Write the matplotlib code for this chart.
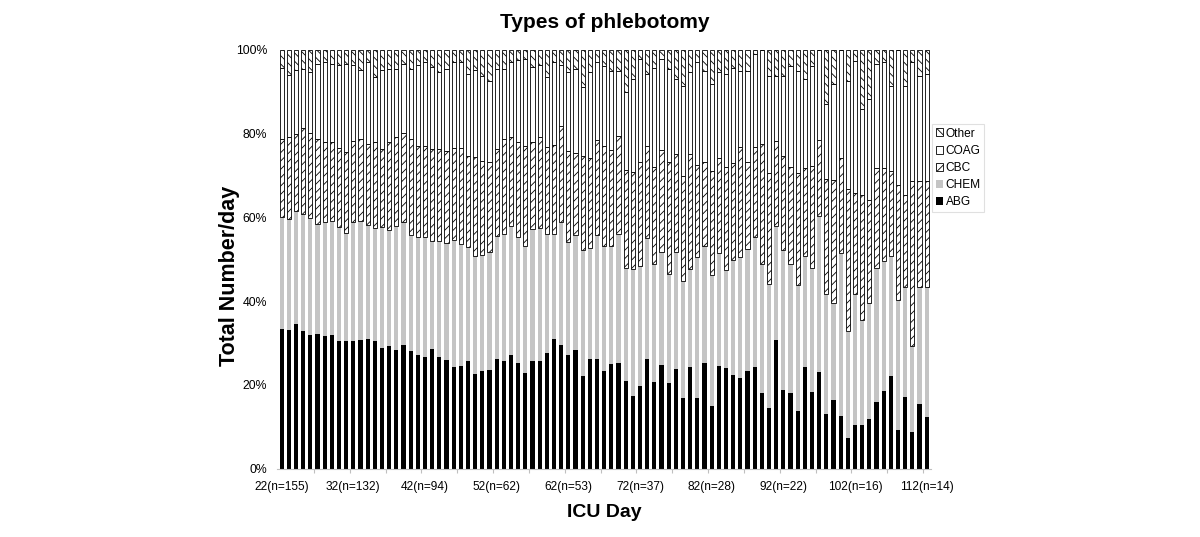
"""Stacked share of phlebotomy types per ICU day."""

import matplotlib
matplotlib.use("Agg")
import matplotlib.pyplot as plt
import numpy as np

# ICU days shown on the x axis (one bar per day)
days = list(range(22, 113))

# share of each test type per day, in percent
abg = [33.3, 33.0, 34.5, 32.9, 31.8, 32.2, 31.6, 31.9, 30.5, 30.5,
       30.5, 30.7, 30.9, 30.5, 28.7, 29.3, 28.4, 29.4, 28.0, 27.2,
       26.6, 28.6, 26.7, 25.9, 24.3, 24.6, 25.7, 22.7, 23.3, 23.5,
       26.1, 25.6, 27.0, 25.3, 22.8, 25.6, 25.6, 27.5, 31.0, 29.4,
       27.0, 28.3, 22.0, 26.2, 26.2, 23.2, 24.9, 25.1, 21.0, 17.4,
       19.6, 26.2, 20.7, 24.7, 20.5, 23.8, 16.9, 24.2, 16.9, 25.1,
       15.0, 24.4, 24.1, 22.4, 21.7, 23.4, 24.3, 18.1, 14.5, 30.6,
       18.8, 18.1, 13.8, 24.3, 18.3, 23.0, 13.0, 16.4, 12.6, 7.4,
       10.3, 10.5, 11.9, 15.8, 18.5, 22.0, 9.2, 17.2, 8.8, 15.4,
       12.3]
chem = [26.7, 26.7, 27.0, 28.0, 28.1, 26.3, 27.3, 27.1, 27.2, 25.8,
        28.4, 28.3, 27.3, 27.0, 28.9, 27.7, 29.4, 29.5, 27.8, 28.2,
        28.7, 25.8, 27.7, 28.0, 30.3, 29.0, 27.2, 28.1, 27.6, 28.3,
        29.5, 30.5, 30.9, 30.1, 30.3, 31.6, 31.8, 28.5, 24.9, 29.5,
        27.2, 27.5, 30.1, 26.4, 29.6, 29.9, 28.2, 30.9, 27.0, 30.2,
        28.8, 28.8, 28.1, 27.1, 25.9, 28.0, 28.0, 23.5, 33.5, 28.0,
        31.2, 27.1, 23.2, 27.3, 28.7, 29.0, 30.9, 30.7, 29.5, 27.3,
        33.3, 30.7, 30.1, 26.5, 29.7, 37.4, 28.8, 23.1, 38.8, 25.5,
        31.5, 25.0, 27.6, 32.0, 31.1, 28.8, 31.1, 26.1, 20.5, 28.0,
        31.1]
cbc = [18.8, 19.4, 18.3, 20.3, 20.1, 20.2, 19.1, 19.0, 18.8, 19.2,
       19.3, 19.6, 19.4, 20.4, 18.7, 21.0, 21.3, 21.2, 22.8, 21.7,
       21.6, 21.9, 22.0, 21.9, 21.9, 23.0, 21.7, 23.7, 22.6, 21.5,
       20.8, 22.5, 21.3, 22.6, 23.9, 20.8, 21.8, 20.7, 21.4, 23.0,
       21.7, 19.6, 22.5, 21.6, 22.6, 24.0, 23.0, 23.5, 23.3, 23.3,
       24.7, 22.1, 23.3, 24.3, 26.9, 23.2, 25.0, 27.5, 22.1, 20.2,
       24.8, 22.6, 24.8, 23.2, 26.4, 20.7, 21.6, 28.8, 26.6, 20.3,
       22.5, 23.2, 26.7, 21.0, 24.2, 18.0, 27.3, 29.4, 22.7, 33.8,
       23.9, 29.7, 24.7, 24.0, 22.2, 20.2, 27.4, 22.1, 39.4, 25.3,
       25.3]
coag = [16.9, 14.9, 15.3, 14.3, 14.7, 18.0, 19.1, 18.7, 19.8, 21.2,
        18.1, 16.5, 19.5, 15.7, 18.8, 17.5, 16.4, 16.6, 16.9, 19.2,
        20.2, 19.6, 18.3, 19.7, 20.6, 20.5, 19.7, 20.6, 20.2, 19.2,
        19.1, 16.9, 17.9, 19.5, 20.9, 17.9, 17.1, 16.9, 19.8, 14.4,
        18.8, 20.1, 16.4, 20.4, 18.6, 19.0, 18.9, 15.5, 18.5, 22.1,
        24.7, 17.2, 23.6, 21.7, 22.1, 18.0, 21.5, 19.4, 24.5, 21.7,
        20.8, 20.5, 22.2, 22.8, 18.2, 21.9, 22.1, 22.4, 23.2, 15.6,
        19.2, 24.1, 24.4, 21.2, 23.9, 21.6, 17.9, 22.9, 25.9, 25.8,
        31.7, 20.6, 24.0, 24.8, 25.2, 20.4, 32.3, 26.0, 28.3, 25.1,
        25.5]
other = [4.3, 6.0, 4.9, 4.5, 5.3, 3.3, 2.9, 3.3, 3.7, 3.3,
         3.7, 4.9, 2.9, 6.4, 4.9, 4.5, 4.5, 3.3, 4.5, 3.7,
         2.9, 4.1, 5.3, 4.5, 2.9, 2.9, 5.7, 4.9, 6.3, 7.5,
         4.5, 4.5, 2.9, 2.5, 2.1, 4.1, 3.7, 6.4, 2.9, 3.7,
         5.3, 4.5, 9.0, 5.4, 3.0, 3.9, 5.0, 5.0, 10.2, 7.0,
         2.2, 5.7, 4.3, 2.2, 4.6, 7.0, 8.6, 5.4, 3.0, 5.0,
         8.2, 5.4, 5.7, 4.3, 5.0, 5.0, 1.1, 0.0, 6.2, 6.2,
         6.2, 3.9, 5.0, 7.0, 3.9, 0.0, 13.0, 8.2, 0.0, 7.5,
         2.6, 14.2, 11.8, 3.4, 3.0, 8.6, 0.0, 8.6, 3.0, 6.2,
         5.8]

# labelled days and their patient counts
tick_days = [22, 32, 42, 52, 62, 72, 82, 92, 102, 112]
tick_n = [155, 132, 94, 62, 53, 37, 28, 22, 16, 14]

plt.rcParams["font.family"] = ["Liberation Sans", "DejaVu Sans"]
plt.rcParams["hatch.linewidth"] = 0.6

fig = plt.figure(figsize=(12, 5.37), dpi=100)
ax = fig.add_axes([0.2308, 0.1274, 0.5450, 0.7800])

x = np.arange(len(days))
w = 0.58
bottom = np.zeros(len(days))
series = [
    ("ABG", abg, dict(color="black", edgecolor="black", linewidth=0)),
    ("CHEM", chem, dict(color="#c4c4c4", edgecolor="#c4c4c4", linewidth=0)),
    ("CBC", cbc, dict(facecolor="white", edgecolor="black", hatch="////", linewidth=0.6)),
    ("COAG", coag, dict(facecolor="white", edgecolor="black", linewidth=0.6)),
    ("Other", other, dict(facecolor="white", edgecolor="black", hatch="\\\\\\\\", linewidth=0.6)),
]
handles = []
for name, vals, style in series:
    vals = np.asarray(vals, dtype=float)
    bars = ax.bar(x, vals, w, bottom=bottom, label=name, **style)
    handles.append(bars)
    bottom += vals

ax.set_xlim(-0.65, len(days) - 0.4)
ax.set_ylim(0, 100)
ax.set_yticks(range(0, 101, 20))
ax.set_yticklabels([f"{v}%" for v in range(0, 101, 20)], fontsize=8.8)
ax.tick_params(axis="y", length=0, pad=7)

ax.set_xticks([days.index(d) for d in tick_days])
ax.set_xticklabels([f"{d}(n={n})" for d, n in zip(tick_days, tick_n)], fontsize=8.6)
ax.tick_params(axis="x", which="major", length=0, pad=9)
ax.set_xticks(np.arange(4.5, len(days), 5), minor=True)
ax.tick_params(axis="x", which="minor", length=3, color="#bfbfbf", width=0.8)

for side in ("top", "right", "left"):
    ax.spines[side].set_visible(False)
ax.spines["bottom"].set_color("#bfbfbf")
ax.spines["bottom"].set_linewidth(0.8)

ax.set_ylabel("Total Number/day", fontsize=15.5, fontweight="bold")
ax.yaxis.set_label_coords(-0.056, 0.46)
ax.set_xlabel("ICU Day", fontsize=14, fontweight="bold")
ax.xaxis.set_label_coords(0.5, -0.104)
ax.xaxis.label.set_va("center")

fig.text(605 / 1200, 1 - 23 / 537, "Types of phlebotomy",
         fontsize=15, fontweight="bold", ha="center", va="center")

leg = fig.legend(handles[::-1], [h.get_label() for h in handles[::-1]],
                 loc="upper left", bbox_to_anchor=(932 / 1200, 1 - 124 / 537),
                 fontsize=8.6, handlelength=0.65, handleheight=0.65,
                 handletextpad=0.2, labelspacing=0.43, borderpad=0.3,
                 borderaxespad=0, fancybox=False, frameon=True)
leg.get_frame().set_edgecolor("#d9d9d9")
leg.get_frame().set_linewidth(0.8)

fig.savefig("out.png", dpi=100, facecolor="white")
